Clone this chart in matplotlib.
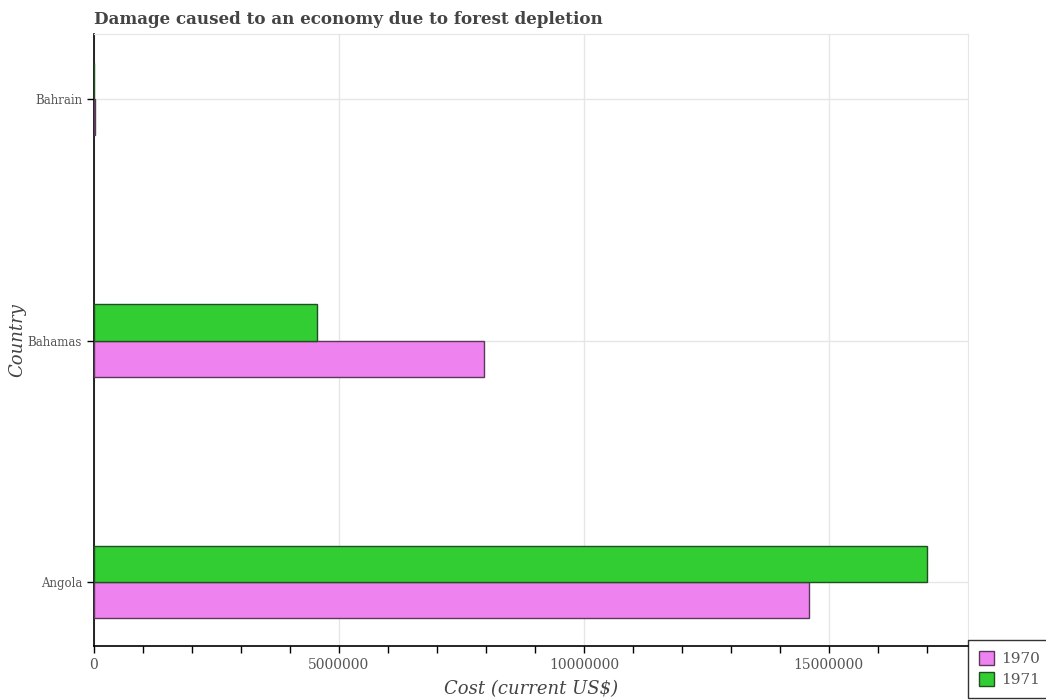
import numpy as np
import matplotlib
matplotlib.use("Agg")
from matplotlib import pyplot as plt
from matplotlib.ticker import MultipleLocator

# data
countries = ['Angola', 'Bahamas', 'Bahrain']
cost_1970 = [14600000, 7960000, 12000]
cost_1971 = [17000000, 4550000, 9000]

plt.rcParams['font.family'] = 'DejaVu Serif'

fig = plt.figure(figsize=(10.46, 7.0), dpi=100)
ax = fig.add_axes([94 / 1046, 1 - 646 / 700, 874 / 1046, 612 / 700])

y = np.arange(len(countries))
h = 0.15
ax.barh(y - h / 2, cost_1970, height=h, color='violet',
        edgecolor='#5a3a5a', linewidth=1.0, label='1970', zorder=3)
ax.barh(y + h / 2, cost_1971, height=h, color='limegreen',
        edgecolor='#1f4f1f', linewidth=1.0, label='1971', zorder=3)

ax.set_xlim(0, 17840000)
ax.set_ylim(-0.265, 2.27)
ax.set_yticks(y)
ax.set_yticklabels(countries)
ax.xaxis.set_major_locator(MultipleLocator(5000000))
ax.xaxis.set_minor_locator(MultipleLocator(1000000))
ax.ticklabel_format(axis='x', style='plain')
ax.tick_params(axis='both', which='major', labelcolor='#555555',
               length=5, width=1)
ax.tick_params(axis='x', which='major', labelsize=10)
ax.tick_params(axis='y', which='major', labelsize=8.5)
ax.tick_params(axis='x', which='minor', length=5, width=1)
ax.grid(True, color='#e6e6e6', linewidth=1, zorder=0)

for s in ['top', 'right']:
    ax.spines[s].set_color('#e6e6e6')
for s in ['left', 'bottom']:
    ax.spines[s].set_color('black')
    ax.spines[s].set_linewidth(1.2)

ax.set_xlabel('Cost (current US$)', fontsize=13, style='italic',
              color='#444444', labelpad=6)
ax.set_ylabel('Country', fontsize=13, style='italic', color='#444444')
ax.yaxis.set_label_coords(-68 / 874, 0.5)

fig.text(94 / 1046, 1 - 19 / 700, 'Damage caused to an economy due to forest depletion',
         fontsize=12.1, fontweight='bold', color='#444444',
         ha='left', va='center')

leg = ax.legend(loc='lower left', bbox_to_anchor=(1.0, -0.085), fontsize=11,
                frameon=True, fancybox=False, edgecolor='black',
                borderaxespad=0, handlelength=1.0, handleheight=1.0,
                handletextpad=0.5, borderpad=0.7, labelspacing=0.4)
leg.get_frame().set_linewidth(1.0)
for t in leg.get_texts():
    t.set_color('#555555')

fig.savefig('out.png', dpi=100)
